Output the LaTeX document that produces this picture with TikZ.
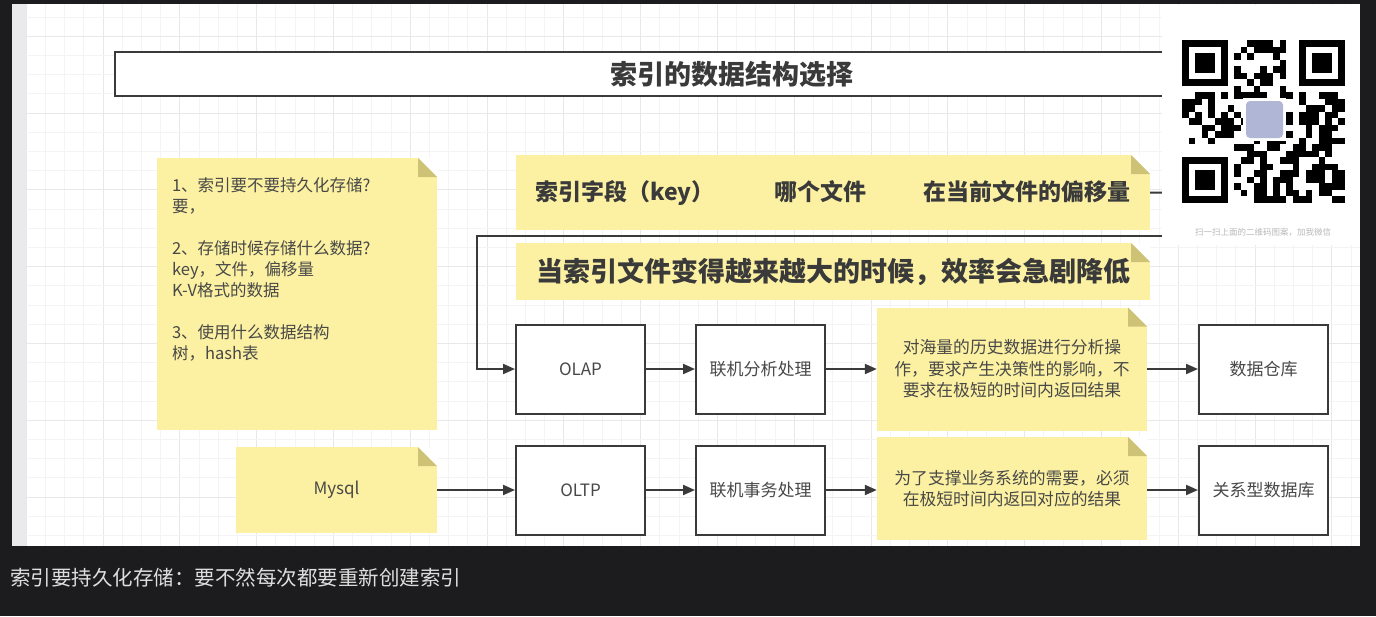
\documentclass[tikz,border=0pt]{standalone}
\usepackage{fontspec}
\setmainfont{Noto Sans CJK SC}
\usetikzlibrary{arrows.meta}

\definecolor{darkbg}{RGB}{28,28,30}
\definecolor{gridminor}{RGB}{244,244,247}
\definecolor{gridmajor}{RGB}{231,231,236}
\definecolor{sidestrip}{RGB}{234,234,237}
\definecolor{notey}{RGB}{252,241,162}
\definecolor{notefold}{RGB}{205,194,118}
\definecolor{ink}{RGB}{58,58,58}
\definecolor{txt}{RGB}{72,72,72}
\definecolor{captiontxt}{RGB}{222,222,222}

% finder square of the QR code, #1 #2 = top left corner
\newcommand{\qrfinder}[2]{%
  \fill[black] (#1,#2) rectangle ++(45.5,45.5);
  \fill[white] (#1+6.5,#2+6.5) rectangle ++(32.5,32.5);
  \fill[black] (#1+13,#2+13) rectangle ++(19.5,19.5);}

\begin{document}
\begin{tikzpicture}[x=1pt, y=-1pt,
    box/.style={draw=ink, line width=2pt, fill=white, minimum width=129pt,
      minimum height=89pt, text=txt, font=\fontsize{17}{20}\selectfont},
    stickynote/.style={fill=notey, inner sep=0pt, path picture={
      \fill[white] ([xshift=-19pt]path picture bounding box.north east)
        -- (path picture bounding box.north east)
        -- ([yshift=-19pt]path picture bounding box.north east) -- cycle;
      \fill[notefold] ([xshift=-19pt]path picture bounding box.north east)
        -- ([xshift=-19pt,yshift=-19pt]path picture bounding box.north east)
        -- ([yshift=-19pt]path picture bounding box.north east) -- cycle;}},
    notetext/.style={text=txt, align=center, font=\fontsize{16.8}{21.5}\selectfont},
    bignote/.style={text=ink, font=\bfseries\fontsize{#1}{#1}\selectfont},
    flow/.style={draw=ink, line width=2pt, -{Triangle[length=12pt,width=10pt]}},
    minorline/.style={draw=gridminor, line width=1pt},
    majorline/.style={draw=gridmajor, line width=1pt}]

  % screen and drawing canvas
  \fill[darkbg] (0,0) rectangle (1376,616);
  \fill[white] (12,4) rectangle (1360,546);
  \begin{scope}
    \clip (12,4) rectangle (1360,546);
    \foreach \i in {0,...,70} {
      \pgfmathtruncatemacro{\m}{mod(\i,4)}
      \ifnum\m=0 \draw[majorline] ({26.2+19.2*\i},4) -- ++(0,542);
      \else \draw[minorline] ({26.2+19.2*\i},4) -- ++(0,542); \fi
    }
    \foreach \j in {0,...,27} {
      \pgfmathtruncatemacro{\m}{mod(\j,4)}
      \ifnum\m=1 \draw[majorline] (12,{17+19.2*\j}) -- ++(1348,0);
      \else \draw[minorline] (12,{17+19.2*\j}) -- ++(1348,0); \fi
    }
  \end{scope}
  \fill[sidestrip] (12,4) rectangle (26,546);

  % title bar
  \node[draw=ink, line width=2.5pt, fill=white, minimum width=1234pt,
    minimum height=44pt, text=ink, font=\bfseries\fontsize{27}{30}\selectfont]
    (title) at (732,74) {索引的数据结构选择};

  % questions note
  \node[stickynote, minimum width=280pt, minimum height=272pt] (questions) at (297,294) {};
  \node[anchor=north west, align=left, inner sep=0pt, text=txt,
    font=\fontsize{16.5}{21}\selectfont] (qtext)
    at ([xshift=15pt,yshift=-20pt]questions.north west)
    {1、索引要不要持久化存储?\\要，\\[21pt]
     2、存储时候存储什么数据?\\key，文件，偏移量\\K-V格式的数据\\[21pt]
     3、使用什么数据结构\\树，hash表};

  % index record and its problem
  \node[stickynote, minimum width=634pt, minimum height=75pt, bignote=23] (record) at (833,192.5)
    {索引字段（key）\hspace{60pt}哪个文件\hspace{57pt}在当前文件的偏移量};
  \node[stickynote, minimum width=634pt, minimum height=57pt, bignote=27] (slow) at (833,271.5)
    {当索引文件变得越来越大的时候，效率会急剧降低};
  \coordinate (recordout) at (1175,193);
  \draw[draw=ink, line width=2pt] (record.east) -- (recordout);

  % OLAP row
  \node[box] (olap) at (580.5,369) {OLAP};
  \node[box] (olapjob) at (760.5,369) {联机分析处理};
  \node[stickynote, minimum width=270pt, minimum height=123pt, notetext] (olapnote) at (1012,369)
    {对海量的历史数据进行分析操\\作，要求产生决策性的影响，不\\要求在极短的时间内返回结果};
  \node[box] (warehouse) at (1263.5,369) {数据仓库};

  % OLTP row
  \node[stickynote, minimum width=201pt, minimum height=86pt, text=txt,
    font=\fontsize{17}{20}\selectfont] (mysql) at (336.5,490) {Mysql};
  \node[box] (oltp) at (580.5,490) {OLTP};
  \node[box] (oltpjob) at (760.5,490) {联机事务处理};
  \node[stickynote, minimum width=270pt, minimum height=103pt, notetext] (oltpnote) at (1012,488.5)
    {为了支撑业务系统的需要，必须\\在极短时间内返回对应的结果};
  \node[box] (rdb) at (1263.5,490) {关系型数据库};

  % connectors
  \coordinate (loopin) at (1175,236);
  \draw[flow] (loopin) -| ([xshift=-38pt]olap.west) -- (olap.west);
  \draw[flow] (olap) -- (olapjob);
  \draw[flow] (olapjob) -- (olapnote);
  \draw[flow] (olapnote) -- (warehouse);
  \draw[flow] (mysql) -- (oltp);
  \draw[flow] (oltp) -- (oltpjob);
  \draw[flow] (oltpjob.east) -- (oltpjob.east -| oltpnote.west);
  \draw[flow] (oltpnote.east |- rdb.west) -- (rdb.west);

  % QR code panel on top
  \fill[white] (1162,5) rectangle (1360,245);
  \pgfmathsetseed{11}
  \foreach \i in {0,...,24} {
    \foreach \j in {0,...,24} {
      \pgfmathrandominteger{\r}{0}{1}
      \ifnum\r=1 \fill[black] ({1182+6.5*\i},{40+6.5*\j}) rectangle ++(6.5,6.5); \fi
    }
  }
  \fill[white] (1182,40) rectangle ++(52,52);
  \fill[white] (1286,40) rectangle ++(58.5,52);
  \fill[white] (1182,144) rectangle ++(52,58.5);
  \qrfinder{1182}{40}
  \qrfinder{1299}{40}
  \qrfinder{1182}{157}
  \fill[white] (1243,98) rectangle ++(43,43);
  \fill[rounded corners=4pt, fill={rgb,255:red,176;green,182;blue,214}] (1246,101) rectangle ++(37,37);
  \node[text=gray!55, font=\fontsize{8.5}{10}\selectfont] (qrhint) at (1263,232)
    {扫一扫上面的二维码图案，加我微信};

  % caption under the canvas
  \node[anchor=west, inner sep=0pt, text=captiontxt, font=\fontsize{20.5}{24}\selectfont]
    (caption) at (10,578) {索引要持久化存储：要不然每次都要重新创建索引};

\end{tikzpicture}
\end{document}
